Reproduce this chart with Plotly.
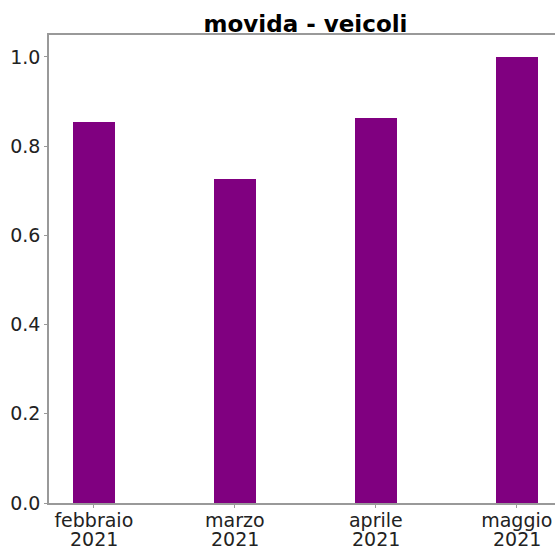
import plotly.graph_objects as go

months = ["febbraio", "marzo", "aprile", "maggio"]
years = ["2021", "2021", "2021", "2021"]
values = [0.853, 0.727, 0.863, 1.0]
y_ticks = [0.0, 0.2, 0.4, 0.6, 0.8, 1.0]
y_tick_labels = ["0.0", "0.2", "0.4", "0.6", "0.8", "1.0"]

positions = list(range(len(months)))

fig = go.Figure()
fig.add_trace(go.Bar(
    x=positions,
    y=values,
    width=0.3,
    marker=dict(color="#800080", line=dict(width=0)),
))

for pos, yr in zip(positions, years):
    fig.add_annotation(
        x=pos, xref="x", y=0, yref="paper",
        text=yr, showarrow=False,
        xanchor="center", yanchor="top", yshift=-23,
        font=dict(family="DejaVu Sans", size=19, color="#222222"),
    )

fig.update_layout(
    width=555, height=546,
    margin=dict(l=49, r=0, t=35, b=43),
    paper_bgcolor="white", plot_bgcolor="white",
    font=dict(family="DejaVu Sans", size=19, color="#222222"),
    title=dict(text="<b>movida - veicoli</b>", x=0.5505, xanchor="center",
               y=1 - 24 / 546, yanchor="middle",
               font=dict(family="DejaVu Sans", size=23, color="black")),
    showlegend=False,
    bargap=0,
)
fig.update_xaxes(
    range=[-0.318, 3.271], automargin=False,
    tickmode="array", tickvals=positions, ticktext=months,
    showgrid=False, zeroline=False,
    showline=True, linecolor="#999999", linewidth=1.5, mirror=True,
    ticks="outside", ticklen=3, tickcolor="#999999",
    ticklabelstandoff=-4,
    tickfont=dict(size=19, color="#222222"),
)
fig.update_yaxes(
    range=[0, 1.049], automargin=False,
    tickmode="array", tickvals=y_ticks, ticktext=y_tick_labels,
    showgrid=False, zeroline=False,
    showline=True, linecolor="#999999", linewidth=1.5, mirror=False,
    ticks="outside", ticklen=3, tickcolor="#999999",
    tickfont=dict(size=19, color="#222222"),
)

fig.write_html(
    "out.html",
    config={"displayModeBar": False},
    post_script="document.body.style.margin='0';document.body.style.overflow='hidden';",
)
